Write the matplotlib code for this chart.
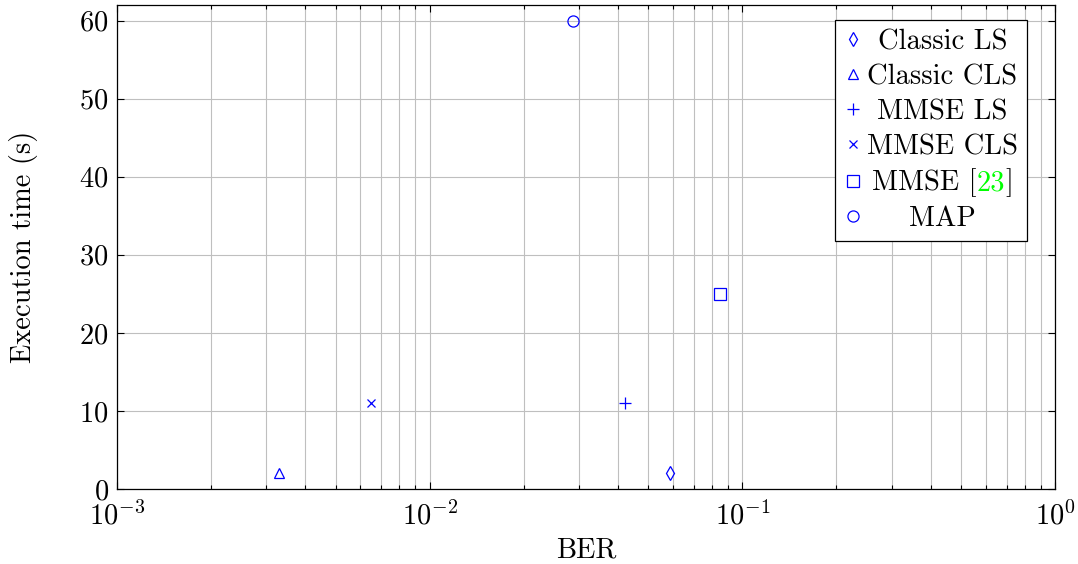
import matplotlib
matplotlib.use("Agg")
import matplotlib.pyplot as plt
from matplotlib.ticker import LogLocator, MultipleLocator

plt.rcParams['font.family'] = ['cmr10', 'DejaVu Serif']
plt.rcParams['mathtext.fontset'] = 'cm'
plt.rcParams['axes.unicode_minus'] = False
plt.rcParams['axes.formatter.use_mathtext'] = True

# data
methods = ['Classic LS', 'Classic CLS', 'MMSE LS', 'MMSE CLS', 'MMSE [23]', 'MAP']
ber = [0.0585, 0.0033, 0.0422, 0.0065, 0.085, 0.0287]
exec_time = [2, 2, 11, 11, 25, 60]
markers = ['d', '^', '+', 'x', 's', 'o']
msizes = [7, 7, 8, 6, 8, 8]

FS = 20.5
fig = plt.figure(figsize=(10.78, 5.64), dpi=100)
ax = fig.add_axes([117/1078, 1-489/564, (1055-117)/1078, (489-5)/564])

for m, x, y, mk, ms in zip(methods, ber, exec_time, markers, msizes):
    ax.plot([x], [y], linestyle='none', marker=mk, ms=ms, mfc='none',
            mec='blue', mew=0.9, label=m)

ax.set_xscale('log')
ax.set_xlim(1e-3, 1)
ax.set_ylim(0, 62)
ax.yaxis.set_major_locator(MultipleLocator(10))
ax.xaxis.set_major_locator(LogLocator(base=10, numticks=10))
ax.xaxis.set_minor_locator(LogLocator(base=10, subs=range(2, 10), numticks=10))

ax.grid(True, which='both', color='#bfbfbf', linewidth=0.8)
ax.set_axisbelow(True)
ax.tick_params(which='both', direction='in', top=True, right=True, labelsize=FS, width=0.8)
ax.tick_params(which='major', length=5, pad=6)
ax.tick_params(axis='x', which='major', pad=9)
ax.tick_params(which='minor', length=3)
for s in ax.spines.values():
    s.set_linewidth(0.9)

ax.set_xlabel('BER', fontsize=FS, labelpad=5)
ax.set_ylabel('Execution time (s)', fontsize=FS, labelpad=30)

leg = ax.legend(loc='upper right', bbox_to_anchor=(1027/1078, 1-20/564),
                bbox_transform=fig.transFigure, borderaxespad=0, fontsize=FS,
                fancybox=False, edgecolor='black', framealpha=1,
                handlelength=0.6, handletextpad=0.2, labelspacing=0.3,
                borderpad=0.32)
leg.get_frame().set_linewidth(0.9)

# centre the legend texts like pgfplots does, and colour the citation number
fig.canvas.draw()
r = fig.canvas.get_renderer()
texts = leg.get_texts()
boxes = [t.get_window_extent(r) for t in texts]
xc = (min(b.x0 for b in boxes) + max(b.x1 for b in boxes)) / 2
inv = fig.transFigure.inverted()
for t in texts:
    label = t.get_text()
    bx, by = t.get_transform().transform(t.get_position())
    t.set_visible(False)
    if label == 'MMSE [23]':
        parts = [('MMSE [', 'black'), ('23', '#00ff00'), (']', 'black')]
        widths = []
        for p, c in parts:
            tmp = fig.text(0, 0, p, fontsize=FS)
            widths.append(tmp.get_window_extent(r).width)
            tmp.remove()
        x0 = xc - sum(widths) / 2
        for (p, c), w in zip(parts, widths):
            fx, fy = inv.transform((x0, by))
            fig.text(fx, fy, p, fontsize=FS, color=c, ha='left', va='baseline')
            x0 += w
    else:
        fx, fy = inv.transform((xc, by))
        fig.text(fx, fy, label, fontsize=FS, ha='center', va='baseline')

fig.savefig('out.png', dpi=100)
